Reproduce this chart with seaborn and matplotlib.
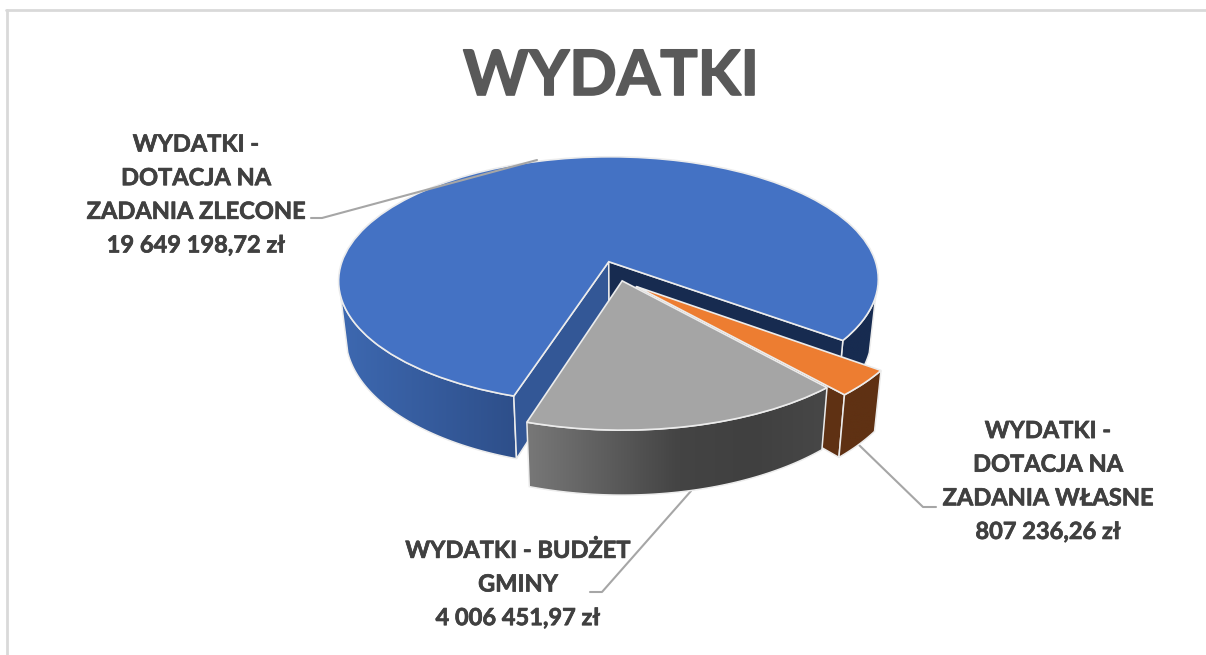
import numpy as np
import matplotlib
matplotlib.use('Agg')
import matplotlib.pyplot as plt
from matplotlib.patches import Polygon
from matplotlib.patheffects import withStroke
from matplotlib.transforms import Transform
import seaborn as sns

# ===============================
# DATA
# ===============================
title = 'WYDATKI'
names = ['WYDATKI -\nDOTACJA NA\nZADANIA ZLECONE',
         'WYDATKI - BUDŻET\nGMINY',
         'WYDATKI -\nDOTACJA NA\nZADANIA WŁASNE']
values = [19649198.72, 4006451.97, 807236.26]
explode = [0.16, 0.003, 0.07]
colors = ['#4472c4', '#a5a5a5', '#ed7d31']

# ===============================
# VIEW OF THE PIE (disc -> pixels)
# ===============================
XC, YC = 622.0, 280.5
SCALE_X, SCALE_Y = 273.0, 126.3
PERSP = 0.153
DEPTH = 55.0
SHRINK = 0.975


def to_pixels(u, v):
    u = np.asarray(u, dtype=float)
    v = np.asarray(v, dtype=float)
    w = 1 + PERSP * v
    return XC + SCALE_X * u / w, YC - SCALE_Y * v / w


class DiscView(Transform):
    input_dims = 2
    output_dims = 2

    def transform_non_affine(self, values):
        x, y = to_pixels(values[:, 0], values[:, 1])
        return np.column_stack([x, y])


def arc_points(wedge, angles):
    a = np.radians(angles)
    u = wedge.center[0] + wedge.r * np.cos(a)
    v = wedge.center[1] + wedge.r * np.sin(a)
    return u, v


def wall(u, v):
    # top edge + the same edge dropped down, as one polygon
    x, y = to_pixels(u, v)
    x2 = XC + (x - XC) * SHRINK
    y2 = y + DEPTH / (1 + PERSP * np.asarray(v, dtype=float))
    return np.r_[x, x2[::-1]], np.r_[y, y2[::-1]]


def rim(ax, wedge, start, stop, palette, z):
    u, v = arc_points(wedge, np.linspace(start, stop, 80))
    px, py = wall(u, v)
    shape = Polygon(np.column_stack([px, py]), closed=True, facecolor='none',
                    edgecolor=EDGE, lw=1.1, zorder=z + 0.1)
    ax.add_patch(shape)
    # horizontal shading, clipped to the shape of the wall
    im = ax.imshow(np.array(palette)[None, :, :], aspect='auto', zorder=z,
                   extent=[px.min(), px.max(), py.max(), py.min()],
                   interpolation='bilinear')
    im.set_clip_path(shape)


def side(ax, wedge, angle, color, z):
    u, v = arc_points(wedge, np.array([angle]))
    px, py = wall(np.r_[wedge.center[0], u], np.r_[wedge.center[1], v])
    ax.fill(px, py, facecolor=color, edgecolor=EDGE, lw=1.1, zorder=z)


def money(value):
    return f'{value:,.2f}'.replace(',', ' ').replace('.', ',') + ' zł'


# ===============================
# FIGURE
# ===============================
sns.set_theme(style='white')
plt.rcParams['font.family'] = ['Lato', 'DejaVu Sans']
EDGE = '#ececec'

fig = plt.figure(figsize=(12.06, 6.55), dpi=100, facecolor='white')
ax = fig.add_axes([0, 0, 1, 1])

wedges, _ = ax.pie(values, explode=explode, colors=colors, startangle=-36.5,
                   counterclock=True, radius=1.0,
                   wedgeprops={'edgecolor': EDGE, 'linewidth': 1.2})
view = DiscView() + ax.transData
for w in wedges:
    w.set_transform(view)
    w.set_clip_on(False)
blue, grey, orange = wedges

# order of drawing: blue block, then orange, then grey in front
rim(ax, blue, 196, blue.theta2, sns.blend_palette(['#3d68b0', '#2e4f8a'], 50), 1)
rim(ax, blue, blue.theta1, -16, sns.blend_palette(['#172b50', '#172b50'], 2), 1)
side(ax, blue, blue.theta2, '#335796', 1.5)
side(ax, blue, blue.theta1, '#172b50', 1.5)
blue.set_zorder(2)

side(ax, orange, orange.theta1, '#5f3113', 3)
rim(ax, orange, orange.theta1, orange.theta2,
    sns.blend_palette(['#5f3113', '#5f3113'], 2), 3.2)
orange.set_zorder(4)

rim(ax, grey, grey.theta1, grey.theta2,
    sns.blend_palette(['#777777', '#5e5e5e', '#444444', '#404040', '#474747'], 50), 5)
grey.set_zorder(6)

# frame of the chart area (top and left only)
ax.plot([6, 1206], [10, 10], color='#d9d9d9', lw=2, clip_on=False)
ax.plot([7, 7], [10, 655], color='#d9d9d9', lw=2, clip_on=False)

# leader lines
leaders = [([311, 322, 537], [218, 218, 160], 3),
           ([590, 602, 691], [592, 592, 491], 0.5),
           ([859, 923, 936], [445, 507, 507], 0.5)]
for lx, ly, z in leaders:
    ax.plot(lx, ly, color='#a6a6a6', lw=1.5, zorder=z)

ax.set_aspect('auto')
ax.set_xlim(0, 1206)
ax.set_ylim(655, 0)
ax.axis('off')

# labels
ax.text(611, 77, title, ha='center', va='center', fontsize=45,
        fontweight='bold', color='#595959',
        path_effects=[withStroke(linewidth=1.2, foreground='#595959')])
label_pos = [(196, 194.5), (518, 584), (1048, 481)]
for (tx, ty), name, value in zip(label_pos, names, values):
    ax.text(tx, ty, name + '\n' + money(value), ha='center', va='center',
            fontsize=17, fontweight='bold', color='#404040', linespacing=1.56,
            path_effects=[withStroke(linewidth=0.5, foreground='#404040')])

fig.savefig('out.png', dpi=100, facecolor='white')
